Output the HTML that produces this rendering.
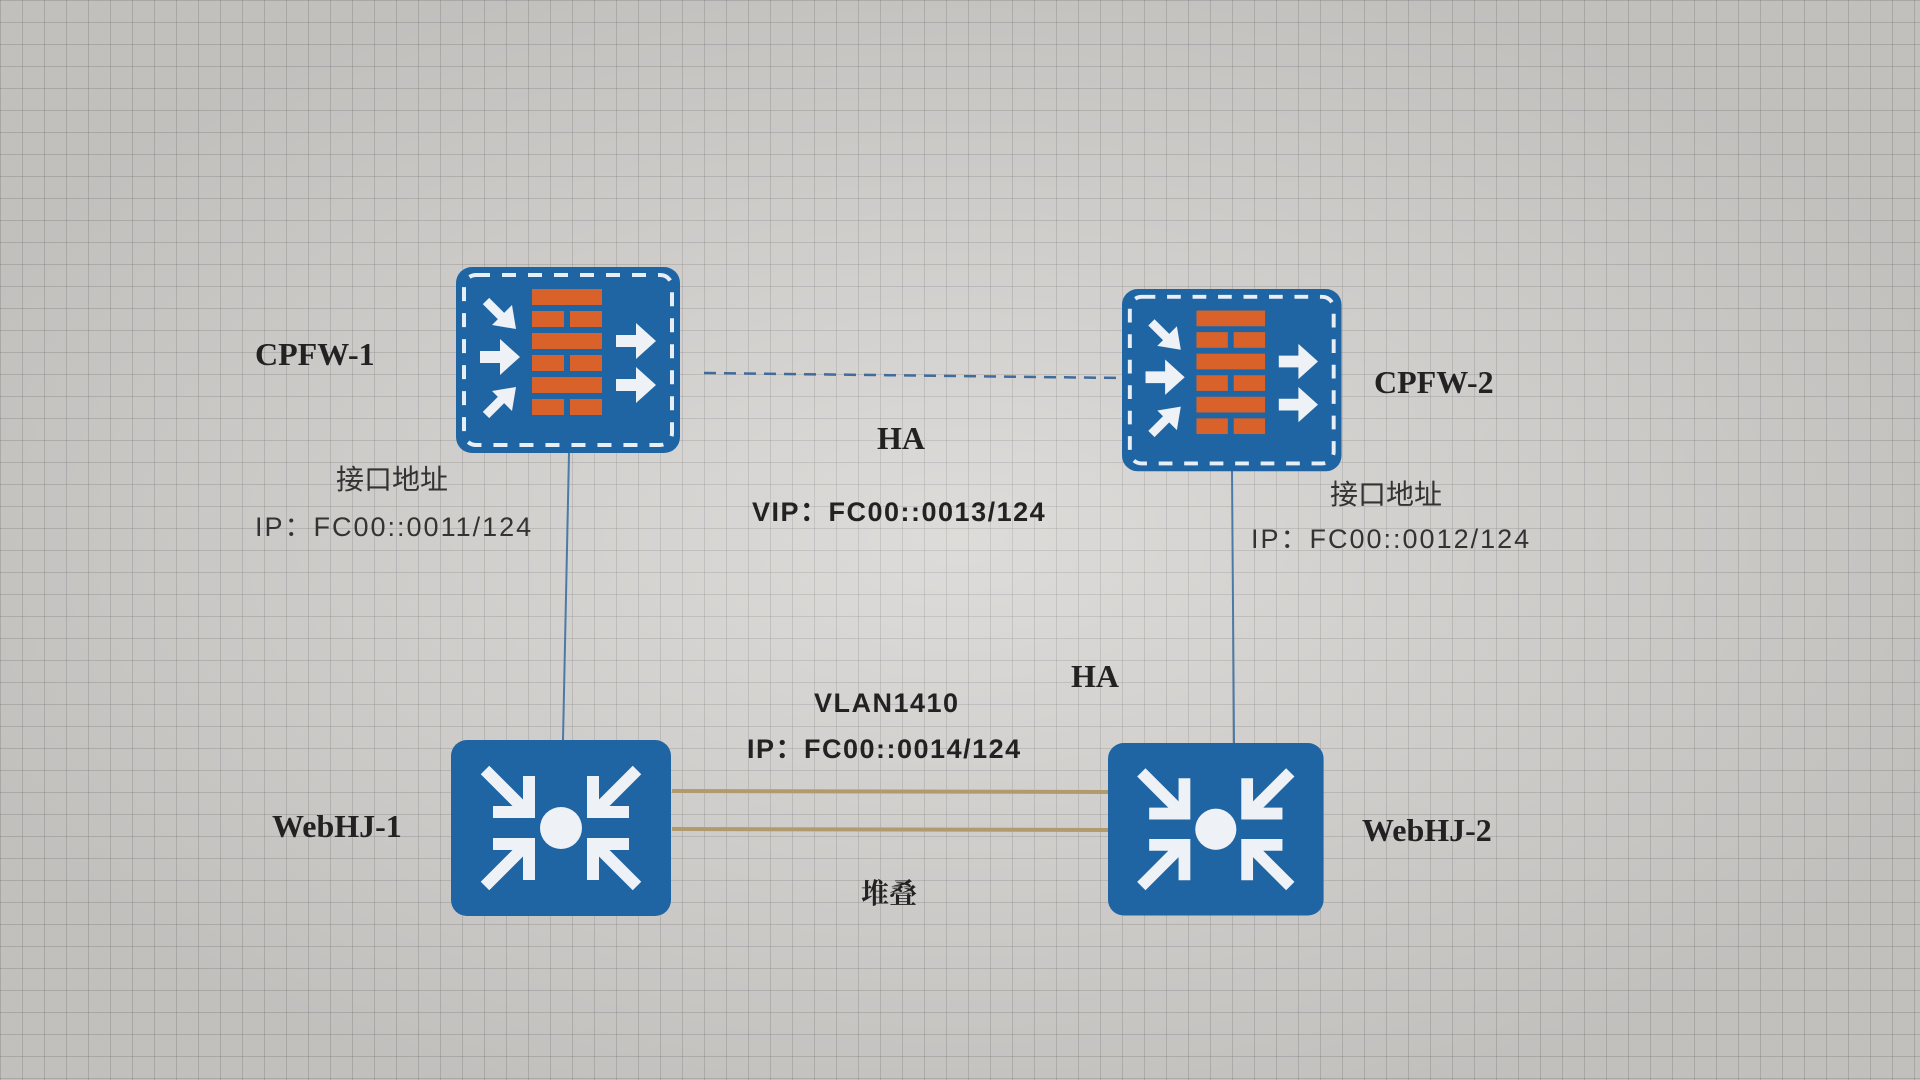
<!DOCTYPE html>
<html><head><meta charset="utf-8"><style>
body{margin:0;width:1920px;height:1080px;overflow:hidden;position:relative;
background-color:#d2d0cd;
background-image:linear-gradient(rgba(120,120,120,.3) 1px,transparent 1px),linear-gradient(90deg,rgba(120,120,120,.3) 1px,transparent 1px);
background-size:22px 22px;font-family:"Liberation Sans","Noto Sans CJK SC",sans-serif;}
.v{position:absolute;inset:0;background:radial-gradient(ellipse at 50% 50%,rgba(255,255,255,.25),rgba(0,0,0,.08) 80%);}
.t{position:absolute;white-space:nowrap;color:#222;}
.s{font-family:"Liberation Serif","Noto Serif CJK SC",serif;font-weight:bold;font-size:32px;}
.b{font-weight:bold;font-size:27px;letter-spacing:1.5px;}
.n{font-size:27px;color:#333;letter-spacing:2px;}
.c{font-family:"Liberation Serif","Noto Sans CJK SC",serif;font-size:28px;color:#333;}
</style></head><body><div class="v"></div>
<svg width="1920" height="1080" style="position:absolute;left:0;top:0">
<defs>
<g id="fw">
<rect x="0" y="0" width="224" height="186" rx="16" fill="#1f65a3"/>
<rect x="8" y="8" width="208" height="170" rx="12" fill="none" stroke="#e8eef5" stroke-width="4" stroke-dasharray="14 12"/>
<g fill="#d9622b">
<rect x="76" y="22" width="70" height="16"/>
<rect x="76" y="44" width="32" height="16"/><rect x="114" y="44" width="32" height="16"/>
<rect x="76" y="66" width="70" height="16"/>
<rect x="76" y="88" width="32" height="16"/><rect x="114" y="88" width="32" height="16"/>
<rect x="76" y="110" width="70" height="16"/>
<rect x="76" y="132" width="32" height="16"/><rect x="114" y="132" width="32" height="16"/>
</g>
<g fill="#eef2f6" stroke="#eef2f6">
<line x1="30" y1="34" x2="50" y2="54" stroke-width="9"/><path d="M60 62 L36 58 L56 38z" stroke="none"/>
<path d="M24 84 h20 v-12 l20 18 l-20 18 v-12 h-20z" stroke="none"/>
<line x1="30" y1="148" x2="50" y2="128" stroke-width="9"/><path d="M60 120 L56 144 L36 124z" stroke="none"/>
<path d="M160 68 h20 v-12 l20 18 l-20 18 v-12 h-20z" stroke="none"/>
<path d="M160 112 h20 v-12 l20 18 l-20 18 v-12 h-20z" stroke="none"/>
</g></g>
<g id="sw">
<rect x="0" y="0" width="220" height="176" rx="16" fill="#1f65a3"/>
<circle cx="110" cy="88" r="21" fill="#eef2f6"/>
<g stroke="#eef2f6" stroke-width="12" fill="none" stroke-linecap="butt">
<line x1="34" y1="30" x2="72" y2="68"/><polyline points="42,72 78,72 78,36"/>
<line x1="186" y1="30" x2="148" y2="68"/><polyline points="178,72 142,72 142,36"/>
<line x1="34" y1="146" x2="72" y2="108"/><polyline points="42,104 78,104 78,140"/>
<line x1="186" y1="146" x2="148" y2="108"/><polyline points="178,104 142,104 142,140"/>
</g></g>
</defs>
<line x1="704" y1="373" x2="1122" y2="378" stroke="#3f6c98" stroke-width="2.5" stroke-dasharray="12 8"/>
<line x1="569" y1="453" x2="563" y2="740" stroke="#4b7aa6" stroke-width="2"/>
<line x1="1232" y1="470" x2="1234" y2="743" stroke="#4b7aa6" stroke-width="2"/>
<line x1="672" y1="791" x2="1108" y2="792" stroke="#b19a6e" stroke-width="4"/>
<line x1="672" y1="829" x2="1108" y2="830" stroke="#b19a6e" stroke-width="4"/>
<use href="#fw" x="456" y="267"/>
<use href="#fw" transform="translate(1122,289) scale(0.98,0.98)"/>
<use href="#sw" transform="translate(451,740)"/>
<use href="#sw" transform="translate(1108,743) scale(0.98,0.98)"/>
</svg>
<div class="t s" style="left:255px;top:336px">CPFW-1</div>
<div class="t s" style="left:1374px;top:364px">CPFW-2</div>
<div class="t s" style="left:877px;top:420px">HA</div>
<div class="t b" style="left:752px;top:490px">VIP：FC00::0013/124</div>
<div class="t c" style="left:336px;top:458px">接口地址</div>
<div class="t n" style="left:255px;top:505px">IP：FC00::0011/124</div>
<div class="t c" style="left:1330px;top:473px">接口地址</div>
<div class="t n" style="left:1251px;top:517px">IP：FC00::0012/124</div>
<div class="t s" style="left:1071px;top:658px">HA</div>
<div class="t b" style="left:814px;top:688px">VLAN1410</div>
<div class="t b" style="left:747px;top:727px">IP：FC00::0014/124</div>
<div class="t s" style="left:272px;top:808px">WebHJ-1</div>
<div class="t s" style="left:1362px;top:812px">WebHJ-2</div>
<div class="t s" style="left:861px;top:872px;font-size:28px">堆叠</div>
</body></html>
